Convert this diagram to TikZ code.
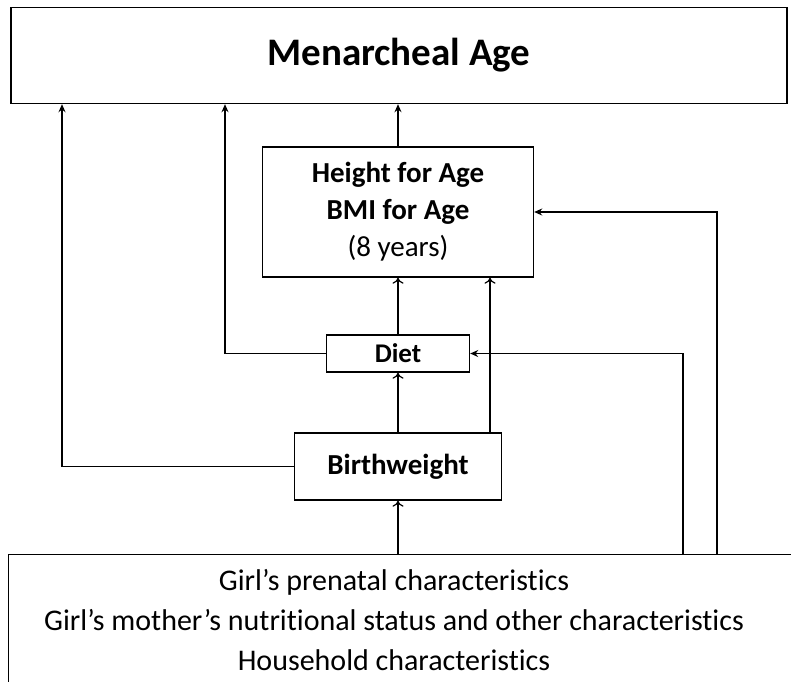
\documentclass[tikz,border=0pt]{standalone}
\usepackage{fontspec}
\setmainfont{Carlito}[Ligatures=NoCommon]
\usetikzlibrary{positioning,arrows.meta,calc}

\begin{document}
\begin{tikzpicture}[x=1pt,y=-1pt]

    \tikzstyle{obj}=[draw, rectangle, line width=1.4pt, inner sep=0pt, align=center];
    \tikzstyle{link}=[line width=1.2pt, -{Stealth[length=8pt,width=7pt]}];
    \tikzstyle{openlink}=[line width=1.2pt, -{To[length=6pt,width=11pt]}];

    \useasboundingbox (0,0) rectangle (791,681);
    \clip (0,0) rectangle (791,681);

    \begin{scope}[font=\fontsize{29}{37}\selectfont]
      \node (menarche) at (399,55.5) [obj, minimum width=776, minimum height=96, font=\fontsize{39}{44}\selectfont\bfseries]{Menarcheal Age};

      \node (hfa) at (398,212) [obj, minimum width=271, minimum height=130]{\textbf{Height for Age}\\\textbf{BMI for Age}\\(8 years)};
      \node (diet) at (398,353.5) [obj, minimum width=143, minimum height=37, font=\fontsize{27}{32}\selectfont\bfseries]{Diet};
      \node (birth) at (398,466.5) [obj, minimum width=207, minimum height=67, font=\fontsize{29}{32}\selectfont\bfseries]{Birthweight};

      \node (basebox) at (8,554) [obj, anchor=north west, minimum width=800, minimum height=140]{};
      \node (basetext) at (394,620) [align=center, font=\fontsize{30}{40}\selectfont]{Girl’s prenatal characteristics\\Girl’s mother’s nutritional status and other characteristics\\Household characteristics};

      \coordinate (leftrail) at (62,0);
      \coordinate (dietrail) at (225,0);
      \coordinate (birthright) at (490,433);
      \coordinate (dietfeed) at (683,554);
      \coordinate (hfafeed) at (717,554);

      \draw [link] (birth.west) -| (leftrail |- menarche.south);
      \draw [link] (diet.west) -| (dietrail |- menarche.south);
      \draw [link] (hfa.north) -- (menarche.south -| hfa.north);

      \draw [openlink] (diet.north) -- (hfa.south);
      \draw [openlink] (birth.north) -- (diet.south);
      \draw [openlink] (birthright) -- (birthright |- hfa.south);
      \draw [openlink] (basebox.north -| birth.south) -- (birth.south);

      \draw [link] (dietfeed) |- (diet.east);
      \draw [link] (hfafeed) |- (hfa.east);
    \end{scope}
\end{tikzpicture}
\end{document}
